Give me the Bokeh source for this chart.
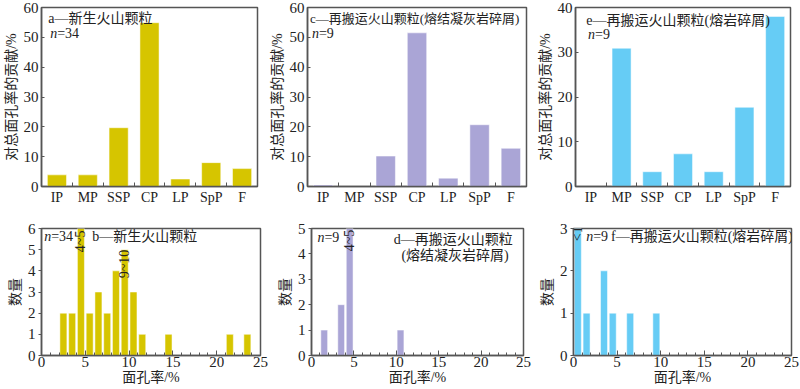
import numpy as np
from bokeh.plotting import figure
from bokeh.layouts import column, row
from bokeh.models import Range1d, FixedTicker, SingleIntervalTicker, Label
from bokeh.core.properties import value
from bokeh.embed import file_html
from bokeh.resources import INLINE

# ---------------- data ----------------
categories = ["IP", "MP", "SSP", "CP", "LP", "SpP", "F"]
a_values = [3.9, 3.9, 19.7, 54.9, 2.5, 8.0, 6.0]
c_values = [0.5, 0.0, 10.2, 51.5, 2.8, 20.7, 12.8]
e_values = [0.0, 30.9, 3.3, 7.3, 3.3, 17.7, 38.0]

b_bins = [2, 3, 4, 5, 6, 7, 8, 9, 10, 11, 14, 21, 23]
b_counts = [2, 2, 6, 2, 3, 2, 4, 5, 3, 1, 1, 1, 1]
b_marks = ["4~5", "9~10"]
b_mark_bins = [4, 9]
b_mark_tops = [5.9, 5.0]

d_bins = [1, 3, 4, 10]
d_counts = [1, 2, 5, 1]
d_marks = ["4~5"]
d_mark_bins = [4]
d_mark_tops = [4.95]

f_bins = [0, 1, 3, 4, 6, 9]
f_counts = [3, 1, 2, 1, 1, 1]
f_marks = ["<1"]
f_mark_bins = [0]
f_mark_tops = [2.7]

YELLOW = "#d6c500"
PURPLE = "#aaa5d6"
BLUE = "#66ccf5"
FRAME = "#555555"
LATIN = "Liberation Serif"
SERIF = "Liberation Serif, Noto Sans CJK SC"
NUM_FS = "15px"
CAT_FS = "14px"
CJK_FS = "14px"
TXT = "#222222"


def base_fig(width, height, left, right, top, bottom, xr, yr):
    p = figure(width=width, height=height, x_range=xr, y_range=yr,
               output_backend="svg", toolbar_location=None)
    p.min_border_left = left
    p.min_border_right = right
    p.min_border_top = top
    p.min_border_bottom = bottom
    p.grid.visible = False
    p.outline_line_color = FRAME
    p.outline_line_width = 1.5
    p.background_fill_color = "white"
    p.border_fill_color = "white"
    for ax in (p.xaxis[0], p.yaxis[0]):
        ax.axis_line_color = FRAME
        ax.axis_line_width = 1.5
        ax.major_label_text_font = LATIN
        ax.major_label_text_font_size = NUM_FS
        ax.major_label_text_color = TXT
        ax.axis_label_text_font = SERIF
        ax.axis_label_text_font_size = CJK_FS
        ax.axis_label_text_font_style = "normal"
        ax.axis_label_text_color = TXT
        ax.major_tick_line_color = FRAME
        ax.minor_tick_line_color = FRAME
        ax.major_label_standoff = 3
        ax.axis_label_standoff = 2
    return p


def add_label(p, x, y, text, italic=False, x_offset=0, size=CJK_FS):
    p.add_layout(Label(x=x, y=y, text=text, x_offset=x_offset,
                       text_font=SERIF, text_font_size=size,
                       text_font_style="italic" if italic else "normal",
                       text_color=TXT, text_baseline="middle", text_align="left"))


def top_panel(values, color, ymax, width, left, right, title, n_text, tx, ty, ny,
              title_size=CJK_FS):
    p = base_fig(width, 207, left, right, 7, 20,
                 Range1d(-0.5, len(categories) - 0.5), Range1d(0, ymax))
    xs = np.arange(len(categories))
    p.vbar(x=xs, top=values, width=0.62, fill_color=color,
           line_color="white", line_alpha=0.5, line_width=1)
    p.xaxis.ticker = FixedTicker(ticks=list(xs),
                                 minor_ticks=list(xs[:-1] + 0.5))
    p.xaxis.major_label_overrides = {int(i): c for i, c in zip(xs, categories)}
    p.xaxis.major_label_text_font_size = CAT_FS
    p.xaxis.major_tick_line_color = None
    p.xaxis.major_tick_in = 0
    p.xaxis.major_tick_out = 0
    p.xaxis.minor_tick_in = 4
    p.xaxis.minor_tick_out = 0
    p.xaxis.major_label_standoff = 3
    p.yaxis.ticker = SingleIntervalTicker(interval=10, num_minor_ticks=0)
    p.yaxis.major_tick_in = 3
    p.yaxis.major_tick_out = 0
    p.yaxis.minor_tick_line_color = None
    p.yaxis.axis_label = "对总面孔率的贡献/%"
    add_label(p, tx, ty, title, size=title_size)
    add_label(p, tx + 0.06, ny, "n", italic=True)
    add_label(p, tx + 0.06, ny, n_text, x_offset=7)
    return p


def bottom_panel(bins, counts, color, ymax, width, left, right, top,
                 marks, mark_bins, mark_tops):
    p = base_fig(width, 182, left, right, top, 34,
                 Range1d(0, 25), Range1d(0, ymax))
    centers = np.array(bins) + 0.5
    p.vbar(x=centers, top=counts, width=0.8, fill_color=color,
           line_color="white", line_alpha=0.5, line_width=1)
    p.text(x=np.array(mark_bins) + 0.5, y=mark_tops, text=marks,
           angle=np.pi / 2, text_align="left" if marks[0].startswith("<") else "right",
           text_baseline="middle", text_font=value(LATIN),
           text_font_size=value(CAT_FS), text_color=TXT)
    p.xaxis.ticker = SingleIntervalTicker(interval=5, num_minor_ticks=5)
    p.xaxis.major_tick_in = 5
    p.xaxis.major_tick_out = 0
    p.xaxis.minor_tick_in = 3
    p.xaxis.minor_tick_out = 0
    p.xaxis.major_label_standoff = 1
    p.xaxis.axis_label_standoff = 0
    p.xaxis.axis_label = "面孔率/%"
    p.yaxis.ticker = SingleIntervalTicker(interval=1, num_minor_ticks=0)
    p.yaxis.major_tick_in = 0
    p.yaxis.major_tick_out = 3
    p.yaxis.minor_tick_line_color = None
    p.yaxis.axis_label = "数量"
    return p


pa = top_panel(a_values, YELLOW, 60, 265, 38, 8, "a—新生火山颗粒", "=34",
               -0.28, 56.4, 51.4)
pc = top_panel(c_values, PURPLE, 60, 267, 42, 6,
               "c—再搬运火山颗粒(熔结凝灰岩碎屑)", "=9", -0.42, 56.4, 51.4,
               title_size="13px")
pe = top_panel(e_values, BLUE, 40, 268, 43, 10,
               "e—再搬运火山颗粒(熔岩碎屑)", "=9", -0.15, 37.1, 34.0)

pb = bottom_panel(b_bins, b_counts, YELLOW, 6, 270, 41, 10, 17,
                  b_marks, b_mark_bins, b_mark_tops)
add_label(pb, 0.3, 5.6, "n", italic=True)
add_label(pb, 0.3, 5.6, "=34", x_offset=7)
add_label(pb, 5.8, 5.6, "b—新生火山颗粒")

pd_ = bottom_panel(d_bins, d_counts, PURPLE, 5, 263, 41, 10, 21,
                   d_marks, d_mark_bins, d_mark_tops)
add_label(pd_, 0.7, 4.65, "n", italic=True)
add_label(pd_, 0.7, 4.65, "=9", x_offset=7)
add_label(pd_, 9.7, 4.55, "d—再搬运火山颗粒")
add_label(pd_, 10.6, 3.92, "(熔结凝灰岩碎屑)")

pf = bottom_panel(f_bins, f_counts, BLUE, 3, 267, 40, 9, 17,
                  f_marks, f_mark_bins, f_mark_tops)
add_label(pf, 1.45, 2.8, "n", italic=True)
add_label(pf, 1.45, 2.8, "=9", x_offset=7)
add_label(pf, 4.3, 2.8, "f—再搬运火山颗粒(熔岩碎屑)")

layout = column(row(pa, pc, pe), row(pb, pd_, pf))
open("out.html", "w").write(file_html(layout, INLINE))
